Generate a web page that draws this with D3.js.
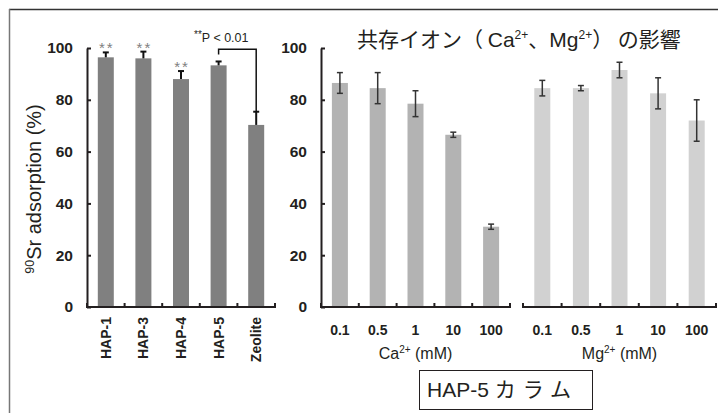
<!DOCTYPE html>
<html><head><meta charset="utf-8">
<script src="https://cdn.jsdelivr.net/npm/d3@7"></script>
<style>
html,body{margin:0;padding:0;background:#fff;}
svg{display:block;}
text{font-family:"Liberation Sans",Arial,sans-serif;}
</style></head>
<body>
<svg id="c" width="718" height="413"></svg>
<script>
const hapCats = ["HAP-1","HAP-3","HAP-4","HAP-5","Zeolite"];
const hapVals = [96.4, 96.0, 88.0, 93.3, 70.3];
const hapErr  = [1.9, 2.6, 3.1, 1.5, 5.1];
const hapSig  = [true, true, true, false, false];
const concCats = ["0.1","0.5","1","10","100"];
const caVals = [86.5, 84.5, 78.5, 66.5, 31.0];
const caErr  = [4, 6, 5, 1, 1];
const mgVals = [84.5, 84.5, 91.5, 82.5, 72.0];
const mgErr  = [3, 1, 3, 6, 8];
const yTicks = [0, 20, 40, 60, 80, 100];

const svg = d3.select("#c");
const AX = "#231f20";

// frame
svg.append("line").attr("x1",9).attr("x2",718).attr("y1",9.5).attr("y2",9.5).attr("stroke","#333").attr("stroke-width",1.5);
svg.append("line").attr("x1",9.5).attr("x2",9.5).attr("y1",9).attr("y2",413).attr("stroke","#777").attr("stroke-width",1.5);

const y = d3.scaleLinear().domain([0,100]).range([307,48]);
const xL = d3.scaleBand().domain(hapCats).range([87,275]);
const xCa = d3.scaleBand().domain(concCats).range([321,510]);
const xMg = d3.scaleBand().domain(concCats).range([523,716]);
const BW = 16;

function yAxis(x0){
  const g = svg.append("g").attr("transform",`translate(${x0},0)`)
    .call(d3.axisLeft(y).tickValues(yTicks).tickSizeInner(-4).tickSizeOuter(0).tickPadding(14));
  g.select(".domain").attr("stroke",AX).attr("stroke-width",2);
  g.selectAll(".tick line").attr("stroke",AX).attr("stroke-width",2);
  g.selectAll(".tick text").attr("font-family","Liberation Sans, Arial").attr("font-size",15.5)
    .attr("font-weight","bold").attr("fill","#231f20");
}
function xAxis(sc){
  const r = sc.range();
  const bounds = sc.domain().map(d=>sc(d)).concat([r[1]]);
  const y0 = y(0);
  svg.append("line").attr("x1",r[0]-1).attr("x2",r[1]+1).attr("y1",y0).attr("y2",y0).attr("stroke",AX).attr("stroke-width",2);
  svg.selectAll(null).data(bounds).enter().append("line")
    .attr("x1",d=>d).attr("x2",d=>d).attr("y1",y0).attr("y2",y0-4).attr("stroke",AX).attr("stroke-width",2);
}
function bars(sc, vals, errs, color, full, ew){
  const cats = sc.domain();
  const cx = i => sc(cats[i]) + sc.bandwidth()/2;
  svg.selectAll(null).data(vals).enter().append("rect")
    .attr("x",(d,i)=>cx(i)-BW/2).attr("width",BW)
    .attr("y",d=>y(d)).attr("height",d=>y(0)-y(d)).attr("fill",color);
  const eg = svg.append("g").attr("stroke",full?"#333":"#111").attr("stroke-width",ew);
  vals.forEach((v,i)=>{
    const lo = full ? v-errs[i] : v;
    eg.append("line").attr("x1",cx(i)).attr("x2",cx(i)).attr("y1",y(v+errs[i])).attr("y2",y(lo));
    eg.append("line").attr("x1",cx(i)-3).attr("x2",cx(i)+3).attr("y1",y(v+errs[i])).attr("y2",y(v+errs[i]));
    if(full) eg.append("line").attr("x1",cx(i)-3).attr("x2",cx(i)+3).attr("y1",y(lo)).attr("y2",y(lo));
  });
  return cx;
}

// Left panel
const cxL = bars(xL, hapVals, hapErr, "#808080", false, 2);
yAxis(87); xAxis(xL);
hapCats.forEach((c,i)=>{
  svg.append("text").attr("transform",`translate(${cxL(i)},317) rotate(-90)`)
    .attr("text-anchor","end").attr("dy","0.35em").attr("font-size",14).attr("font-weight","bold")
    .attr("fill","#231f20").text(c);
  if(hapSig[i]) svg.append("text").attr("x",cxL(i)+1).attr("y",y(hapVals[i]+hapErr[i])+1)
    .attr("text-anchor","middle").attr("font-size",15).attr("fill","#808080").attr("letter-spacing",2).text("**");
});
// significance bracket
const bY = y(99.5);
svg.append("path").attr("fill","none").attr("stroke","#111").attr("stroke-width",1.5)
  .attr("d",`M${cxL(3)},${y(97.5)}V${bY}H${cxL(4)}V${y(hapVals[4]+hapErr[4])}`);
const pt = svg.append("text").attr("x",194).attr("y",42).attr("font-size",12.5).attr("fill","#231f20");
pt.append("tspan").attr("font-size",10).attr("dy",-4).text("**");
pt.append("tspan").attr("dy",4).text("P < 0.01");
// y title
const yt = svg.append("text").attr("transform","translate(41,189) rotate(-90)")
  .attr("text-anchor","middle").attr("font-size",20).attr("fill","#231f20");
yt.append("tspan").attr("font-size",12.5).attr("dy",-7).text("90");
yt.append("tspan").attr("dy",7).text("Sr adsorption (%)");

// Middle / right panels
const cxCa = bars(xCa, caVals, caErr, "#b3b3b3", true, 1.5);
const cxMg = bars(xMg, mgVals, mgErr, "#d1d1d1", true, 1.5);
yAxis(321); xAxis(xCa); xAxis(xMg);
[[xCa,cxCa],[xMg,cxMg]].forEach(([sc,cx])=>{
  concCats.forEach((c,i)=>{
    svg.append("text").attr("x",cx(i)).attr("y",335).attr("text-anchor","middle")
      .attr("font-size",14).attr("font-weight","bold").attr("fill","#231f20").text(c);
  });
});
function ionTitle(x, ion){
  const t = svg.append("text").attr("x",x).attr("y",359).attr("text-anchor","middle").attr("font-size",16).attr("fill","#231f20");
  t.append("tspan").text(ion);
  t.append("tspan").attr("font-size",10).attr("dy",-6).text("2+");
  t.append("tspan").attr("dy",6).text(" (mM)");
}
ionTitle((xCa.range()[0]+xCa.range()[1])/2, "Ca");
ionTitle((xMg.range()[0]+xMg.range()[1])/2, "Mg");

// title
const tt = svg.append("text").attr("x",357).attr("y",46.5).attr("font-size",21).attr("fill","#231f20")
  .style("font-family","'Noto Sans CJK JP','Liberation Sans',sans-serif");
tt.append("tspan").text("共存イオン（ ");
tt.append("tspan").style("font-family","'Liberation Sans',Arial").text("Ca");
tt.append("tspan").style("font-family","'Liberation Sans',Arial").attr("font-size",12).attr("dy",-8).text("2+");
tt.append("tspan").attr("dy",8).text("、");
tt.append("tspan").style("font-family","'Liberation Sans',Arial").text("Mg");
tt.append("tspan").style("font-family","'Liberation Sans',Arial").attr("font-size",12).attr("dy",-8).text("2+");
tt.append("tspan").attr("dy",8).text("） の影響");

// box label
svg.append("rect").attr("x",419.5).attr("y",370.5).attr("width",173).attr("height",39).attr("fill","none").attr("stroke","#231f20").attr("stroke-width",1);
const bt = svg.append("text").attr("x",427).attr("y",397).attr("font-size",21).attr("fill","#231f20");
bt.append("tspan").style("font-family","'Liberation Sans',Arial").text("HAP-5 ");
bt.append("tspan").style("font-family","'Noto Sans CJK JP',sans-serif").attr("letter-spacing",7).text("カラム");
</script>
</body></html>
